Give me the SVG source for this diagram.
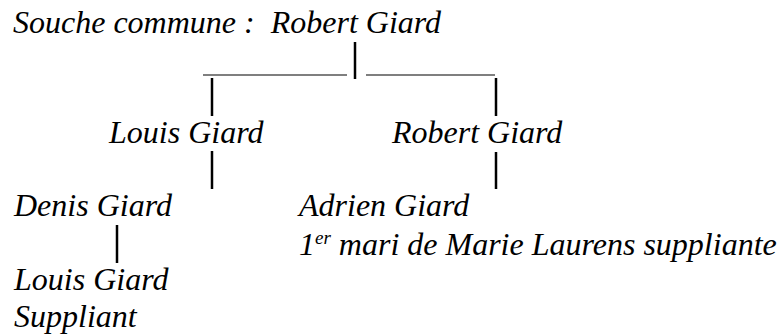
<svg xmlns="http://www.w3.org/2000/svg" width="780" height="336" viewBox="0 0 780 336">
<style>
.t{font-family:'Liberation Serif','DejaVu Serif',serif;font-style:italic;font-size:32px;fill:#000}
.v{stroke:#000;stroke-width:2.5;fill:none}
.h{stroke:#000;stroke-width:1.2;fill:none}
</style>
<rect width="780" height="336" fill="#fff"/>
<g id="root"><text class="t" x="13" y="33" xml:space="preserve">Souche commune :  Robert Giard</text></g>
<g id="louis1"><text class="t" x="109" y="143">Louis Giard</text></g>
<g id="robert2"><text class="t" x="392" y="143">Robert Giard</text></g>
<g id="denis"><text class="t" x="14" y="216">Denis Giard</text></g>
<g id="adrien"><text class="t" x="299" y="216">Adrien Giard</text>
<text class="t" x="299" y="255">1<tspan font-size="19" dy="-11">er</tspan><tspan dy="11"> mari de Marie Laurens suppliante</tspan></text></g>
<g id="louis2"><text class="t" x="14" y="290">Louis Giard</text>
<text class="t" x="14" y="327">Suppliant</text></g>
<g id="connectors">
<line class="v" x1="355" y1="42" x2="355" y2="79"/>
<line class="h" x1="203" y1="75" x2="347" y2="75"/>
<line class="h" x1="366" y1="75" x2="495" y2="75"/>
<line class="v" x1="212" y1="78" x2="212" y2="116"/>
<line class="v" x1="496" y1="78" x2="496" y2="116"/>
<line class="v" x1="212" y1="151" x2="212" y2="189"/>
<line class="v" x1="496" y1="152" x2="496" y2="189"/>
<line class="v" x1="117" y1="225" x2="117" y2="263"/>
</g>
</svg>
